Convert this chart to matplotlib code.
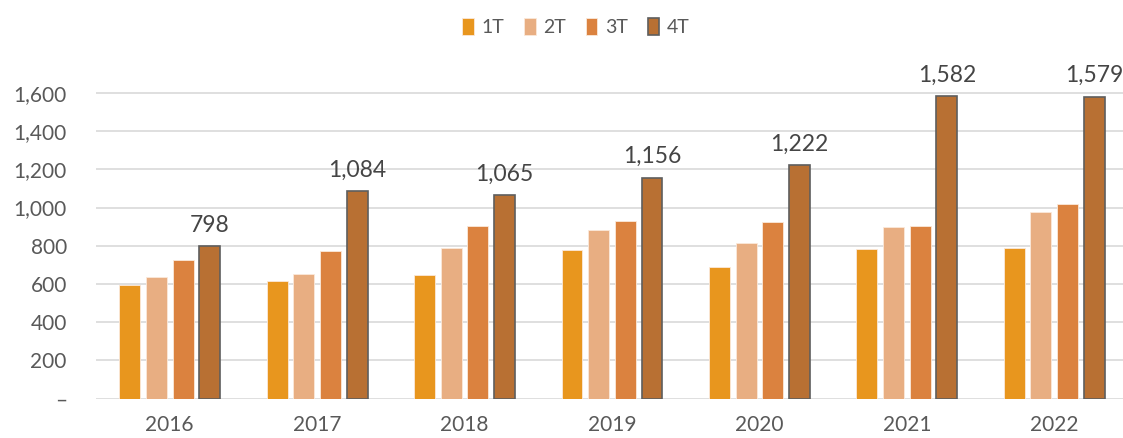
import matplotlib.pyplot as plt
import numpy as np
from matplotlib.ticker import FuncFormatter

# data
years = ['2016', '2017', '2018', '2019', '2020', '2021', '2022']
series_names = ['1T', '2T', '3T', '4T']
t1 = [595, 615, 645, 776, 687, 783, 786]
t2 = [635, 654, 788, 882, 816, 896, 975]
t3 = [724, 771, 903, 929, 922, 903, 1018]
t4 = [798, 1084, 1065, 1156, 1222, 1582, 1579]

colors = ['#E8961E', '#E8AE82', '#DB823F', '#B87033']
txt = '#595959'

plt.rcParams['font.family'] = ['Lato', 'DejaVu Sans']

fig = plt.figure(figsize=(11.23, 4.38), dpi=100)
ax = fig.add_axes([96/1123, 39.3/438, 1032/1123, 325/438])

x = np.arange(len(years))
pitch = 0.181
width = 0.142
for i, (vals, c) in enumerate(zip([t1, t2, t3, t4], colors)):
    pos = x + (i - 1.5) * pitch
    if i == 3:
        bars = ax.bar(pos, vals, width, color=c, edgecolor='#5E5E5E',
                      linewidth=1.2, label=series_names[i], zorder=3)
        for b, v in zip(bars, vals):
            ax.text(b.get_x() + b.get_width()/2, v + 55, f'{v:,}',
                    ha='center', va='bottom', fontsize=16.5, color='#454545')
    else:
        ax.bar(pos, vals, width, color=c, edgecolor='#FBE9DA',
               linewidth=0.6, label=series_names[i], zorder=3)

ax.set_ylim(0, 1700)
ax.set_xlim(-0.5, len(years) - 0.5)
ax.set_yticks(range(0, 1601, 200))
ax.yaxis.set_major_formatter(FuncFormatter(lambda v, p: '–' if v == 0 else f'{int(v):,}'))
ax.set_xticks(x)
ax.set_xticklabels(years)
ax.grid(axis='y', color='#D9D9D9', linewidth=1.2, zorder=0)
for s in ax.spines.values():
    s.set_visible(False)
ax.tick_params(axis='both', length=0, labelsize=15, colors=txt)
ax.tick_params(axis='y', pad=21)
ax.tick_params(axis='x', pad=12)

leg = fig.legend(loc='upper center', bbox_to_anchor=(0.513, 1.0), ncol=4,
                 frameon=False, fontsize=14, handlelength=0.6, handleheight=1.0,
                 handletextpad=0.4, columnspacing=1.0)
for t in leg.get_texts():
    t.set_color(txt)

fig.savefig('out.png', dpi=100)
